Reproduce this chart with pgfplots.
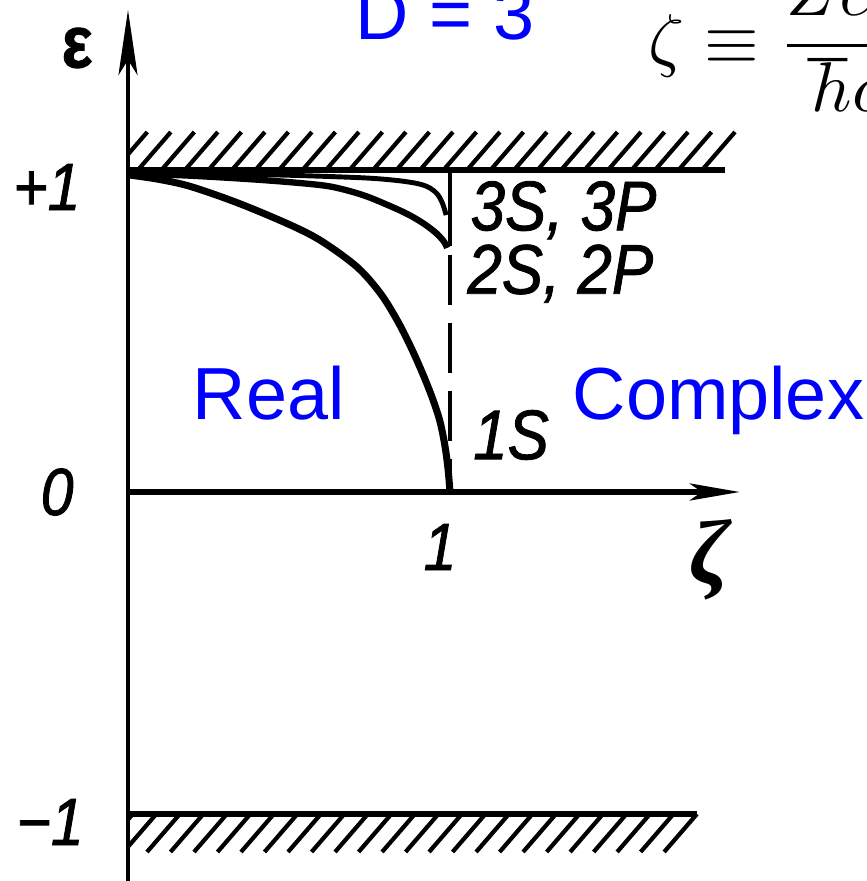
\documentclass[border=0pt]{standalone}
\usepackage{fontspec}
\usepackage{graphicx}
\usepackage{pgfplots}
\pgfplotsset{compat=1.18}
\usetikzlibrary{arrows.meta}
\setmainfont{Liberation Sans}
\newfontfamily\lblfont[FakeStretch=0.88, FakeBold=1.2]{Liberation Sans}
\newfontfamily\grkfont{Liberation Serif}

\begin{document}
\begin{tikzpicture}
\path[use as bounding box] (0,0) rectangle (8.67cm,8.81cm);
\clip (0,0) rectangle (8.67cm,8.81cm);
\begin{axis}[
  at={(0,0)}, anchor=south west,
  width=8.67cm, height=8.81cm, scale only axis,
  xmin=-0.3975, xmax=2.2950, ymin=-1.2081, ymax=1.5280,
  hide axis, clip=false,
]
% hatched forbidden zones above +1 and below -1
\begin{scope}
  \clip (axis cs:0,0.99) rectangle (axis cs:2.2,1.20);
  \pgfplotsinvokeforeach{0,...,25}{
    \draw[line width=1.2pt] (axis cs:{1.783-#1*0.073},1) -- (axis cs:{1.885-#1*0.073},1.118);
  }
\end{scope}
\begin{scope}
  \clip (axis cs:0,-0.99) rectangle (axis cs:2.2,-1.20);
  \pgfplotsinvokeforeach{0,...,25}{
    \draw[line width=1.2pt] (axis cs:{1.767-#1*0.073},-1) -- (axis cs:{1.665-#1*0.073},-1.118);
  }
\end{scope}
\draw[line width=1.5pt] (axis cs:0,1) -- (axis cs:1.854,1);
\draw[line width=1.7pt] (axis cs:0,-1) -- (axis cs:1.767,-1);

% coordinate axes
\draw[line width=1.4pt, -{Stealth[length=6.5mm,width=1.9mm,inset=1.5mm]}] (axis cs:0,-1.25) -- (axis cs:0,1.497);
\draw[line width=1.6pt, -{Stealth[length=5mm,width=1.7mm,inset=1.2mm]}] (axis cs:0,0) -- (axis cs:1.90,0);

% boundary of the real spectrum at zeta = 1
\draw[line width=1.1pt] (axis cs:1,1) -- (axis cs:1,0.765);
\draw[line width=0.9pt, dash pattern=on 0.5cm off 0.18cm] (axis cs:1,0.735) -- (axis cs:1,0);

% 1S level
\addplot[smooth, tension=0.55, line width=2pt] coordinates {
  (0,0.985) (0.09,0.972) (0.183,0.952) (0.286,0.918) (0.388,0.879)
  (0.52,0.822) (0.606,0.776) (0.711,0.699) (0.783,0.618) (0.835,0.535)
  (0.876,0.455) (0.912,0.375) (0.944,0.295) (0.968,0.222) (0.984,0.145)
  (0.994,0.07) (1,0)
};
% 2S, 2P levels
\addplot[smooth, tension=0.55, line width=1.8pt] coordinates {
  (0,0.99) (0.2,0.982) (0.4,0.97) (0.55,0.958) (0.637,0.947) (0.73,0.922)
  (0.814,0.888) (0.87,0.862) (0.916,0.835) (0.95,0.81) (0.969,0.792)
  (0.983,0.775) (0.991,0.758)
};
% 3S, 3P levels
\addplot[smooth, tension=0.55, line width=1.4pt] coordinates {
  (0,0.99) (0.4,0.986) (0.7,0.977) (0.82,0.969) (0.898,0.958)
  (0.938,0.944) (0.963,0.922) (0.978,0.893) (0.988,0.86)
};

% axis labels
\node[font=\lblfont\bfseries\fontsize{21}{24}\selectfont] at (axis cs:-0.158,1.379) {ε};
\node[font=\grkfont\bfseries\itshape\fontsize{26}{30}\selectfont] at (axis cs:1.807,-0.211) {ζ};
\node[font=\lblfont\itshape\fontsize{19}{22}\selectfont] at (axis cs:-0.252,0.947) {+1};
\node[font=\lblfont\itshape\fontsize{19}{22}\selectfont] at (axis cs:-0.22,0) {0};
\node[font=\lblfont\itshape\fontsize{19}{22}\selectfont] at (axis cs:-0.242,-1.025) {−1};
\node[font=\lblfont\itshape\fontsize{19}{22}\selectfont] at (axis cs:0.969,-0.171) {1};

% level names
\node[anchor=west, inner sep=0, font=\lblfont\itshape\fontsize{20}{24}\selectfont] at (axis cs:1.062,0.875) {3S, 3P};
\node[anchor=west, inner sep=0, font=\lblfont\itshape\fontsize{20}{24}\selectfont] at (axis cs:1.052,0.678) {2S, 2P};
\node[anchor=west, inner sep=0, font=\lblfont\itshape\fontsize{20}{24}\selectfont] at (axis cs:1.07,0.177) {1S};

% annotations
\node[anchor=base west, inner sep=0, text=blue, font=\fontsize{21}{25}\selectfont] at (axis cs:0.705,1.404) {D = 3};
\node[anchor=base west, inner sep=0, text=blue, font=\fontsize{21}{25}\selectfont] at (axis cs:0.199,0.224) {Real};
\node[anchor=base west, inner sep=0, text=blue, font=\fontsize{21}{25}\selectfont] at (axis cs:1.379,0.224) {Complex};
\node[anchor=base west, inner sep=0] at (axis cs:1.615,1.332) {\scalebox{2}{$\displaystyle\zeta\equiv\frac{Ze^2}{\hbar c}$}};
\end{axis}
\end{tikzpicture}
\end{document}
